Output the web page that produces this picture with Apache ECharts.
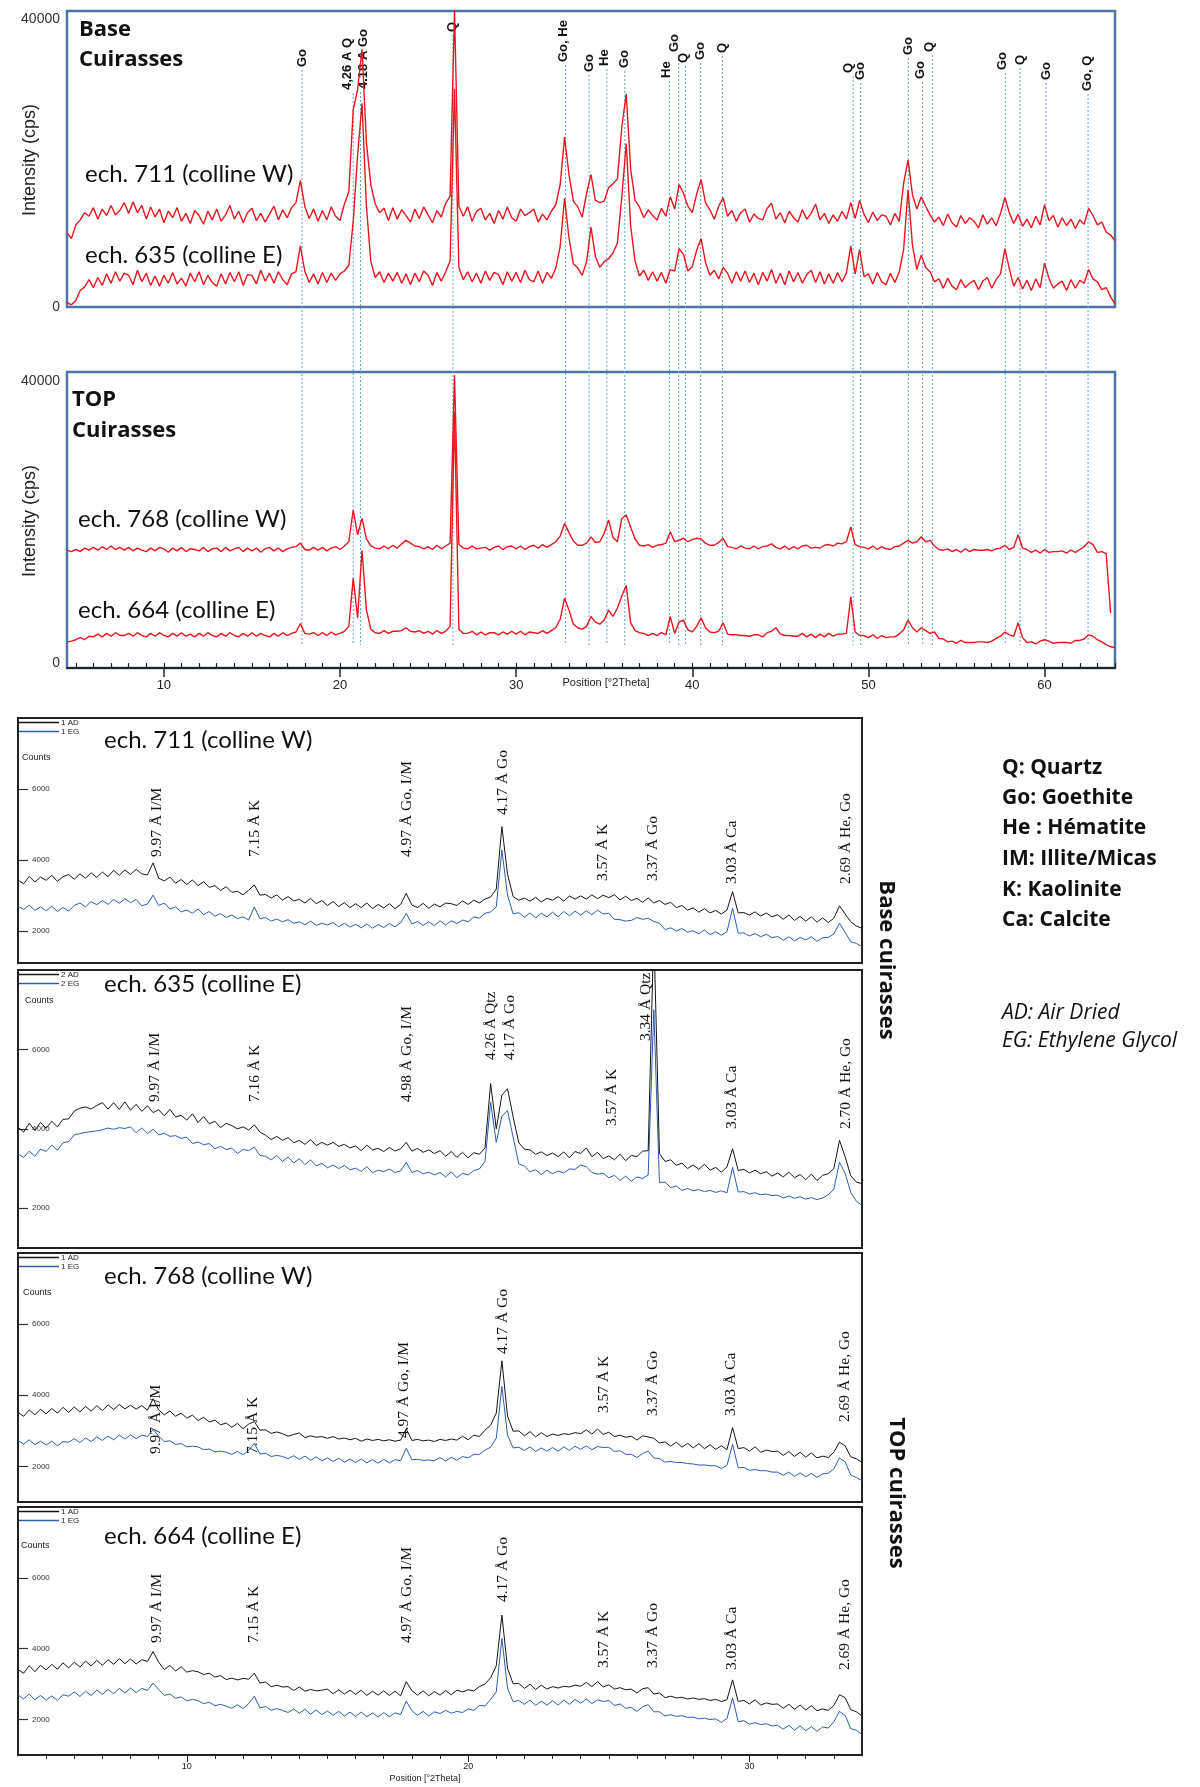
<!DOCTYPE html>
<html>
<head>
<meta charset="utf-8">
<script src="https://cdn.jsdelivr.net/npm/echarts@6/dist/echarts.min.js"></script>
<style>
html,body{margin:0;padding:0;background:#fff;}
#chart{width:1200px;height:1787px;}
</style>
</head>
<body>
<div id="chart"></div>
<script>
// ---------------- DATA ----------------
// Top panels: intensity in units of 100 cps, sampled every 0.25 deg 2theta from 4.5
const TOP_X0 = 4.5, TOP_STEP = 0.25, TOP_UNIT = 100;
const base711 = [103,95,
 114,121,131,126, 138,122,136,127, 141,128,134,145, 130,146,131,141, 122,139,125,136,
 117,133,124,138, 119,130,116,134, 127,115,133,121, 136,119,128,141, 122,133,117,131,
 137,120,130,118, 129,140,121,135, 124,138,145,176, 140,123,136,119, 134,121,139,126,
 120,143,160,274, 302,358,228,170, 143,131,137,120, 138,122,135,127, 118,136,123,139,
 128,117,134,125, 144,154,412,140, 126,139,119,133, 137,121,130,116, 134,122,139,124,
 119,136,127,131, 136,118,129,121, 133,142,170,236, 184,147,139,125, 158,184,148,145,
 147,166,171,178, 250,296,192,148, 139,124,135,127, 121,137,126,153, 136,170,158,140,
 131,157,177,145, 135,122,140,152, 126,134,119,131, 136,118,129,123, 121,137,144,122,
 131,117,133,124, 118,135,122,130, 143,121,130,116, 128,119,133,122, 145,123,148,129,
 117,132,120,128, 126,114,130,119, 172,204,156,136, 153,140,128,118, 125,113,129,117,
 111,127,116,124, 119,110,128,115, 124,113,130,152, 131,116,129,112, 122,110,126,114,
 142,120,127,111, 124,113,122,109, 121,115,137,127, 114,118,104,100, 92];
const base635 = [6,3,
 9,23,28,38, 27,41,30,46, 33,49,36,47, 44,31,51,35, 47,30,43,29,
 44,33,48,32, 40,29,47,35, 49,31,44,34, 29,46,32,48, 35,49,30,45,
 44,32,51,36, 47,33,49,38, 31,46,49,85, 50,34,46,32, 48,34,47,37,
 46,50,58,119, 211,283,140,63, 41,49,34,47, 36,48,33,46, 31,47,35,50,
 44,30,48,36, 49,64,303,55, 38,49,35,47, 33,50,37,48, 45,31,49,36,
 48,34,51,38, 35,50,33,48, 40,54,84,151, 96,60,54,44, 63,111,70,55,
 63,67,75,89, 153,227,113,64, 43,51,37,49, 36,48,33,52, 50,81,73,50,
 56,79,95,62, 44,51,39,55, 47,33,49,36, 50,34,47,31, 48,36,52,33,
 47,31,50,35, 48,33,45,51, 34,49,32,46, 33,48,35,47, 85,46,80,42,
 46,32,48,35, 31,47,34,49, 80,163,86,52, 72,55,49,35, 39,26,40,29,
 24,38,27,33, 37,24,36,41, 26,38,46,81, 53,29,41,25, 37,23,39,27,
 61,40,26,32, 36,23,38,26, 37,33,52,39, 35,24,27,14, 4];
const top768 = [160,158,
 161,158,163,160, 164,160,165,161, 166,161,164,160, 164,159,163,160, 158,163,159,164,
 162,157,163,159, 164,158,162,161, 159,164,158,162, 163,158,164,159, 162,164,158,163,
 159,163,157,162, 164,159,163,158, 162,164,165,170, 161,160,164,160, 164,159,163,165,
 161,166,172,217, 182,205,176,166, 163,162,166,162, 167,163,169,174, 170,166,165,162,
 165,161,167,162, 166,170,408,168, 163,162,166,162, 163,164,160,164, 166,161,165,166,
 162,166,161,165, 167,163,168,164, 168,172,180,198, 185,173,167,167, 170,179,171,172,
 184,203,178,172, 205,210,193,176, 167,166,168,164, 167,168,170,186, 172,174,177,172,
 175,177,176,170, 167,167,171,177, 165,164,162,166, 163,162,166,162, 165,166,169,164,
 162,166,161,165, 162,166,167,163, 164,163,167,168, 166,170,169,172, 193,168,165,164,
 162,166,161,165, 162,161,165,166, 170,174,170,172, 179,172,174,166, 161,160,162,158,
 161,157,162,158, 161,160,160,161, 159,162,163,167, 161,164,182,163, 161,157,160,156,
 161,157,158,158, 159,156,160,157, 161,165,172,168, 157,158,155,71];
const top664 = [30,31,
 33,36,33,38, 37,41,37,42, 38,43,39,39, 42,38,43,39, 37,42,38,43,
 39,37,42,38, 43,38,41,37, 42,38,43,39, 37,42,38,43, 39,37,42,38,
 43,38,42,39, 37,42,38,43, 39,42,44,56, 42,41,43,39, 43,39,44,40,
 42,45,52,120, 64,160,75,48, 43,42,46,42, 45,45,46,50, 45,44,46,42,
 45,41,46,42, 45,52,356,48, 42,42,45,40, 44,40,43,43, 40,44,41,45,
 41,45,40,44, 43,42,46,42, 46,50,62,92, 75,55,50,48, 52,66,58,55,
 61,75,66,78, 95,110,57,46, 43,42,39,42, 39,43,40,66, 42,58,61,47,
 44,52,64,50, 44,43,45,57, 41,40,40,39, 39,38,40,40, 37,43,45,50,
 41,39,39,38, 38,42,37,41, 36,41,37,42, 38,41,41,42, 94,44,39,39,
 36,40,35,39, 36,37,37,41, 47,61,50,44, 50,46,42,44, 35,34,30,31,
 28,32,29,29, 29,30,30,29, 31,35,38,44, 40,38,57,36, 29,30,27,31,
 33,31,28,29, 29,29,28,32, 32,34,40,38, 33,30,26,23, 22];

// Top phase markers (deg 2theta) and their labels
const peakPos = [17.84,20.75,21.16,26.41,32.81,34.14,35.15,36.17,38.70,39.23,39.61,40.48,41.71,49.13,49.56,52.27,53.08,53.63,57.77,58.61,60.08,62.47];
const peakNames = ['Go','4,26 A Q','4.18 A Go','Q','Go, He','Go','He','Go','He','Go','Q','Go','Q','Q','Go','Go','Go','Q','Go','Q','Go','Go, Q'];

// Lower panels: counts in units of 10, sampled every 0.2 deg 2theta from 4
const LOW_X0 = 4, LOW_STEP = 0.2, LOW_UNIT = 10;
const c711AD = [
 344,333,354,338,352, 343,357,340,353,359, 346,361,349,364,351, 366,353,371,357,372, 359,374,361,358,392,
 349,341,352,335,345, 331,344,328,339,323, 328,314,325,309,312, 302,315,330,301,303, 293,302,287,297,285,
 289,279,292,277,286, 272,283,269,280,266, 277,266,279,263,275, 265,277,263,275,306, 273,266,278,264,276,
 268,279,277,272,285, 275,287,279,290,296, 318,494,360,297,287, 293,284,295,282,292, 287,297,284,299,290,
 299,290,302,291,301, 294,302,288,298,286, 292,281,293,279,286, 275,281,266,272,259, 265,253,263,251,258,
 248,259,311,251,252, 245,254,242,251,240, 246,233,245,230,241, 228,240,225,237,224, 236,271,248,226,214, 208];
const c711EG = [
 270,261,273,258,268, 257,270,255,266,256, 272,279,268,283,274, 286,275,289,278,291, 280,289,271,276,301,
 272,279,262,268,254, 259,250,262,246,255, 242,249,238,245,235, 240,231,268,235,238, 228,234,226,232,222,
 226,218,228,216,222, 217,224,212,222,211, 219,209,220,208,218, 210,221,212,223,250, 220,227,216,226,215,
 229,217,229,221,231, 226,240,236,250,254, 268,428,301,248,252, 239,251,237,250,240, 253,240,255,243,256,
 245,257,246,259,248, 250,233,232,228,230, 238,233,236,227,222, 204,209,200,207,197, 201,192,203,190,198,
 188,198,264,194,195, 186,193,184,191,181, 185,174,184,172,182, 175,184,171,181,182, 192,222,196,170,165, 156];
const c635AD = [
 404,392,414,396,416, 402,419,405,424,425, 445,452,455,450,459, 466,450,466,449,468, 447,462,444,458,441,
 448,433,449,430,434, 422,438,416,431,413, 419,403,414,408,400, 405,397,410,392,384, 373,381,371,378,365,
 371,361,373,358,366, 359,366,356,361,352, 357,345,359,347,351, 343,353,344,350,366, 344,351,341,347,338,
 345,331,343,328,341, 327,340,336,352,514, 400,485,501,430,365, 349,347,336,342,333, 339,330,342,327,343,
 338,352,330,341,325, 332,322,336,320,333, 330,344,345,900,338, 318,322,308,314,300, 309,298,311,296,303,
 291,304,350,295,298, 289,296,287,292,281, 289,279,291,277,285, 272,286,270,283,287, 300,371,330,282,266, 262];
const c635EG = [
 337,328,344,331,349, 343,359,346,365,368, 385,388,391,393,395, 398,402,399,403,401, 405,390,402,388,399,
 385,389,381,383,376, 379,363,367,360,363, 350,356,348,351,338, 348,345,354,333,331, 322,333,318,329,314,
 325,310,322,307,313, 302,309,300,308,297, 301,293,305,290,296, 292,299,290,294,316, 290,295,287,291,284,
 290,279,292,277,288, 284,295,299,318,467, 366,432,446,379,312, 306,292,297,285,296, 287,294,289,299,298,
 309,305,290,286,288, 277,283,270,281,268, 279,275,284,700,265, 266,252,256,245,250, 244,247,242,245,240,
 244,239,303,241,242, 236,239,234,236,232, 233,226,231,225,229, 223,227,222,226,234, 248,316,288,240,218, 207];
const c768AD = [
 352,341,359,345,361, 348,363,350,366,352, 367,353,369,355,371, 357,373,360,374,362, 372,361,371,358,390,
 359,345,356,341,350, 336,344,329,338,325, 330,317,322,310,321, 306,319,326,302,303, 293,297,292,285,290,
 294,281,286,282,284, 279,284,277,280,275, 279,271,277,273,276, 272,275,271,274,306, 273,276,272,274,270,
 276,273,277,274,285, 275,288,284,302,316, 350,497,342,299,300, 286,298,283,295,284, 291,287,292,290,295,
 292,303,291,305,290, 296,284,288,282,285, 274,286,283,279,266, 269,257,268,254,265, 252,264,250,261,248,
 258,247,309,250,253, 243,255,240,246,242, 243,231,242,228,240, 226,238,224,229,225, 240,268,258,227,221, 212];
const c768EG = [
 273,263,275,261,271, 260,271,258,270,268, 278,267,280,270,283, 273,285,275,288,277, 289,278,288,284,304,
 285,270,272,262,264, 255,257,255,247,249, 241,243,240,234,242, 233,245,265,235,237, 228,231,228,222,230,
 220,229,217,227,216, 224,214,223,212,221, 211,221,210,219,209, 220,210,219,216,251, 219,220,217,218,216,
 225,215,226,217,228, 224,234,234,246,254, 279,425,288,252,254, 245,255,242,252,243, 253,243,255,245,257,
 248,258,247,256,253, 254,242,244,234,234, 225,236,243,224,222, 212,214,211,211,208, 207,204,204,202,202,
 194,203,262,196,197, 189,191,188,188,184, 184,175,184,172,182, 171,180,169,179,181, 193,224,213,176,169, 160];
const c664AD = [
 341,331,352,335,353, 340,356,342,360,346, 362,348,365,351,367, 353,369,356,372,358, 371,357,369,364,392,
 362,341,353,337,349, 334,338,335,327,331, 320,324,313,317,312, 316,314,331,303,306, 293,297,292,293,282,
 292,280,285,281,283, 286,273,284,272,283, 271,283,268,280,269, 281,268,280,267,307, 282,269,281,267,279,
 269,282,270,283,278, 284,281,293,300,318, 352,495,345,301,302, 288,300,285,297,286, 293,289,294,292,297,
 294,305,293,307,292, 298,286,290,284,286, 275,287,290,272,275, 262,266,261,263,258, 261,257,259,254,257,
 251,256,312,251,254, 244,256,241,247,243, 244,232,243,229,241, 227,239,225,230,226, 240,270,262,228,222, 210];
const c664EG = [
 270,258,272,256,268, 255,267,254,270,266, 278,265,280,268,283, 271,285,273,288,275, 289,276,288,282,303,
 285,268,272,260,264, 253,257,253,245,249, 239,243,238,232,242, 231,245,266,233,237, 226,231,226,220,230,
 218,229,215,227,214, 224,212,223,210,221, 209,221,208,219,207, 220,208,219,214,252, 225,212,223,210,222,
 217,226,218,223,220, 230,226,240,238,257, 278,429,289,250,254, 243,255,240,252,241, 253,241,255,243,257,
 246,258,245,256,251, 254,240,244,232,234, 223,236,242,222,222, 210,214,209,211,206, 207,202,204,200,202,
 192,203,261,194,197, 187,191,186,188,182, 184,173,184,170,182, 169,180,167,179,176, 194,223,212,174,170, 157];

// Lower peak annotations (label centre, deg 2theta)
const lowLabelsA = ['9.97 Å I/M','7.15 Å K','4.97 Å Go, I/M','4.17 Å Go','3.57 Å K','3.37 Å Go','3.03 Å Ca','2.69 Å He, Go'];
const lowLabels635 = ['9.97 Å I/M','7.16 Å K','4.98 Å Go, I/M','4.26 Å Qtz','4.17 Å Go','3.57 Å K','3.34 Å Qtz','3.03 Å Ca','2.70 Å He, Go'];
const lowPos711 = [8.93,12.42,17.81,21.22,24.78,26.56,29.37,33.42];
const lowPos635 = [8.86,12.42,17.81,20.80,21.47,25.12,26.33,29.39,33.44];
const lowPos768 = [8.89,12.34,17.72,21.25,24.81,26.56,29.35,33.38];
const lowPos664 = [8.93,12.38,17.81,21.22,24.81,26.56,29.37,33.40];

// ---------------- LAYOUT (pixels) ----------------
const peakLabelBottom = [67,90,89,32,62,72,66,68,78,52,63,60,53,73,80,55,79,52,70,65,80,91];
const peakLabelDx = [0,-6,3,0,-2,0,-2,0,-3,-4,-2,0,0,-5,0,0,-2,-3,-3,0,0,-1];
const lowBottom711 = [857,857,857,815,881,881,884,884];
const lowBottom635 = [1102,1102,1102,1060,1060,1126,1041,1129,1129];
const lowBottom768 = [1454,1454,1438,1354,1413,1416,1416,1422];
const lowBottom664 = [1643,1643,1643,1602,1668,1668,1670,1670];

function pairs(x0, step, vals, unit){
  return vals.map((v,i)=>[+(x0+step*i).toFixed(2), v==null?null:v*unit]);
}
const RED = '#e8161e', BLK = '#151515', BLU = '#2c5db3';
const SANS = '"Liberation Sans", Arial, sans-serif';
const LATO = 'Lato, "Open Sans", sans-serif';
const OPEN = '"Open Sans", Lato, sans-serif';
const SERIF = '"Liberation Serif", "Times New Roman", serif';
const plain = v => String(v);

function topSeries(name, vals, ax){
  return {type:'line', name, xAxisIndex:ax, yAxisIndex:ax===0?0:1, data:pairs(TOP_X0,TOP_STEP,vals,TOP_UNIT),
    showSymbol:false, symbol:'none', lineStyle:{color:RED,width:1.4}, itemStyle:{color:RED}, z:3, silent:true, clip:true};
}
function lowSeries(name, vals, xi, yi, color){
  return {type:'line', name, xAxisIndex:xi, yAxisIndex:yi, data:pairs(LOW_X0,LOW_STEP,vals,LOW_UNIT),
    showSymbol:false, symbol:'none', lineStyle:{color,width:1}, itemStyle:{color}, z:3, silent:true, clip:true};
}
function lowLabelSeries(texts, pos, bottoms, xi, yi){
  return {type:'custom', xAxisIndex:xi, yAxisIndex:yi, silent:true, clip:false, z:2,
    data: pos.map(p=>[p, 4000]),
    renderItem:(params, api)=>{
      const i = params.dataIndex;
      const x = api.coord([api.value(0), api.value(1)])[0];
      return {type:'text', x:x, y:bottoms[i], rotation:Math.PI/2,
        style:{text:texts[i], font:'15.5px '+SERIF, fill:'#111', align:'left', verticalAlign:'middle'}};
    }};
}

const hiddenX = (gi, min, max)=>({gridIndex:gi, type:'value', min, max, show:false});
const range = (a,b)=>{const r=[];for(let v=a;v<=b;v++)r.push(v);return r;};
const T = (x,y,text,font,extra)=>Object.assign({type:'text', x, y, style:Object.assign({text, font, fill:'#111', verticalAlign:'middle'}, (extra&&extra.style)||{})}, extra&&extra.rotation!==undefined?{rotation:extra.rotation}:{});

const option = {
  backgroundColor:'#fff',
  animation:false,
  grid:[
    {left:67, top:11, width:1048, height:296, show:true, borderColor:'#4a76a8', borderWidth:2.5, backgroundColor:'transparent'},
    {left:67, top:372, width:1048, height:296, show:true, borderColor:'#4a76a8', borderWidth:2.5, backgroundColor:'transparent'},
    {left:18, top:718, width:844, height:245, show:true, borderColor:'#222', borderWidth:2},
    {left:18, top:970, width:844, height:278, show:true, borderColor:'#222', borderWidth:2},
    {left:18, top:1253, width:844, height:249, show:true, borderColor:'#222', borderWidth:2},
    {left:18, top:1507, width:844, height:248, show:true, borderColor:'#222', borderWidth:2}
  ],
  xAxis:[
    hiddenX(0,4.5,64),
    {gridIndex:1, type:'value', min:4.5, max:64, position:'bottom',
      axisLine:{show:true, onZero:false, lineStyle:{color:'#222', width:2}},
      axisTick:{show:true, customValues:[10,20,30,40,50,60], length:9, lineStyle:{color:'#222', width:1.5}},
      axisLabel:{show:true, customValues:[10,20,30,40,50,60], formatter:plain, fontSize:13, color:'#222', margin:11, fontFamily:SANS},
      splitLine:{show:false}},
    {gridIndex:1, type:'value', min:4.5, max:64, position:'bottom',
      axisLine:{show:false}, axisTick:{show:true, customValues:range(5,64), length:5, lineStyle:{color:'#222', width:1.2}},
      axisLabel:{show:false}, splitLine:{show:false}},
    hiddenX(2,4,34), hiddenX(3,4,34), hiddenX(4,4,34),
    {gridIndex:5, type:'value', min:4, max:34, position:'bottom',
      axisLine:{show:true, onZero:false, lineStyle:{color:'#222', width:2}},
      axisTick:{show:true, customValues:[10,20,30], length:7, lineStyle:{color:'#222'}},
      axisLabel:{show:true, customValues:[10,20,30], formatter:plain, fontSize:9, color:'#222', margin:7, fontFamily:SANS},
      splitLine:{show:false}},
    {gridIndex:5, type:'value', min:4, max:34, position:'bottom',
      axisLine:{show:false}, axisTick:{show:true, customValues:range(5,33), length:4, lineStyle:{color:'#222'}},
      axisLabel:{show:false}, splitLine:{show:false}}
  ],
  yAxis:[
    {gridIndex:0, type:'value', min:0, max:41111, axisLine:{show:false}, axisTick:{show:false}, splitLine:{show:false},
      axisLabel:{customValues:[0,40000], formatter:plain, fontSize:14, color:'#333', margin:7, fontFamily:SANS}},
    {gridIndex:1, type:'value', min:-709, max:41277, axisLine:{show:false}, axisTick:{show:false}, splitLine:{show:false},
      axisLabel:{customValues:[0,40000], formatter:plain, fontSize:14, color:'#333', margin:7, fontFamily:SANS}},
  ].concat([[2,1100],[3,1000],[4,1000],[5,1000]].map(([g,mn])=>({
      gridIndex:g, type:'value', min:mn, max:8000, axisLine:{show:false}, splitLine:{show:false},
      axisTick:{show:true, inside:true, customValues:[2000,4000,6000], length:10, lineStyle:{color:'#333', width:1.2}},
      axisLabel:{show:true, inside:true, customValues:[2000,4000,6000], formatter:plain, fontSize:8, color:'#333', margin:14, fontFamily:SANS}
  }))),
  legend:[
    [718,['1 AD','1 EG']],[970,['2 AD','2 EG']],[1253,['1 AD','1 EG']],[1507,['1 AD','1 EG']]
  ].map(([t,d])=>({left:19, top:t, orient:'vertical', itemGap:0, itemWidth:40, itemHeight:1.3, icon:'rect', padding:0,
      data:d, selectedMode:false, textStyle:{fontSize:8, color:'#222', lineHeight:9, padding:[0,0,0,-3], fontFamily:SANS}})),
  series:[
    topSeries('711', base711, 0),
    topSeries('635', base635, 0),
    topSeries('768', top768, 1),
    topSeries('664', top664, 1),
    {type:'custom', xAxisIndex:0, yAxisIndex:0, silent:true, clip:false, z:1,
      data: peakPos.map(p=>[p,0]),
      renderItem:(params, api)=>{
        const i = params.dataIndex;
        const x = api.coord([api.value(0), api.value(1)])[0];
        const yb = peakLabelBottom[i];
        return {type:'group', children:[
          {type:'line', shape:{x1:x, y1:yb+3, x2:x, y2:645}, style:{stroke:'#5d9fd8', lineWidth:1, lineDash:[2,2]}},
          {type:'text', x:x+peakLabelDx[i], y:yb, rotation:Math.PI/2,
            style:{text:peakNames[i], font:'bold 13px '+SANS, fill:'#111', align:'left', verticalAlign:'middle'}}
        ]};
      }},
    lowSeries('1 EG', c711EG, 3, 2, BLU), lowSeries('1 AD', c711AD, 3, 2, BLK),
    lowSeries('2 EG', c635EG, 4, 3, BLU), lowSeries('2 AD', c635AD, 4, 3, BLK),
    lowSeries('1 EG', c768EG, 5, 4, BLU), lowSeries('1 AD', c768AD, 5, 4, BLK),
    lowSeries('1 EG', c664EG, 6, 5, BLU), lowSeries('1 AD', c664AD, 6, 5, BLK),
    lowLabelSeries(lowLabelsA, lowPos711, lowBottom711, 3, 2),
    lowLabelSeries(lowLabels635, lowPos635, lowBottom635, 4, 3),
    lowLabelSeries(lowLabelsA, lowPos768, lowBottom768, 5, 4),
    lowLabelSeries(lowLabelsA, lowPos664, lowBottom664, 6, 5)
  ],
  graphic:[
    T(30,160,'Intensity (cps)','18px '+SANS,{rotation:Math.PI/2, style:{align:'center', fill:'#222'}}),
    T(30,521,'Intensity (cps)','18px '+SANS,{rotation:Math.PI/2, style:{align:'center', fill:'#222'}}),
    T(79,30,'Base','bold 22px '+OPEN),
    T(79,60,'Cuirasses','bold 22px '+OPEN),
    T(72,400,'TOP','bold 22px '+OPEN),
    T(72,431,'Cuirasses','bold 22px '+OPEN),
    T(85,174,'ech. 711 (colline W)','24px '+LATO),
    T(85,255,'ech. 635 (colline E)','24px '+LATO),
    T(78,519,'ech. 768 (colline W)','24px '+LATO),
    T(78,610,'ech. 664 (colline E)','24px '+LATO),
    T(606,683,'Position [°2Theta]','11px '+SANS,{style:{align:'center', fill:'#222'}}),
    T(104,740,'ech. 711 (colline W)','24px '+LATO),
    T(104,984,'ech. 635 (colline E)','24px '+LATO),
    T(104,1276,'ech. 768 (colline W)','24px '+LATO),
    T(104,1536,'ech. 664 (colline E)','24px '+LATO),
    T(22,758,'Counts','9px '+SANS,{style:{fill:'#222'}}),
    T(25,1001,'Counts','9px '+SANS,{style:{fill:'#222'}}),
    T(23,1293,'Counts','9px '+SANS,{style:{fill:'#222'}}),
    T(21,1546,'Counts','9px '+SANS,{style:{fill:'#222'}}),
    T(425,1779,'Position [°2Theta]','9px '+SANS,{style:{align:'center', fill:'#222'}}),
    T(886,960,'Base cuirasses','bold 22px '+OPEN,{rotation:-Math.PI/2, style:{align:'center'}}),
    T(896,1493,'TOP cuirasses','bold 22px '+OPEN,{rotation:-Math.PI/2, style:{align:'center'}}),
    T(1002,768,'Q: Quartz','bold 21px '+OPEN),
    T(1002,798,'Go: Goethite','bold 21px '+OPEN),
    T(1002,828,'He : Hématite','bold 21px '+OPEN),
    T(1002,859,'IM: Illite/Micas','bold 21px '+OPEN),
    T(1002,890,'K: Kaolinite','bold 21px '+OPEN),
    T(1002,920,'Ca: Calcite','bold 21px '+OPEN),
    T(1002,1013,'AD: Air Dried','italic 21px '+OPEN),
    T(1002,1041,'EG: Ethylene Glycol','italic 21px '+OPEN)
  ]
};
const chart = echarts.init(document.getElementById('chart'), null, {renderer:'canvas'});
chart.setOption(option);
</script>
</body>
</html>
